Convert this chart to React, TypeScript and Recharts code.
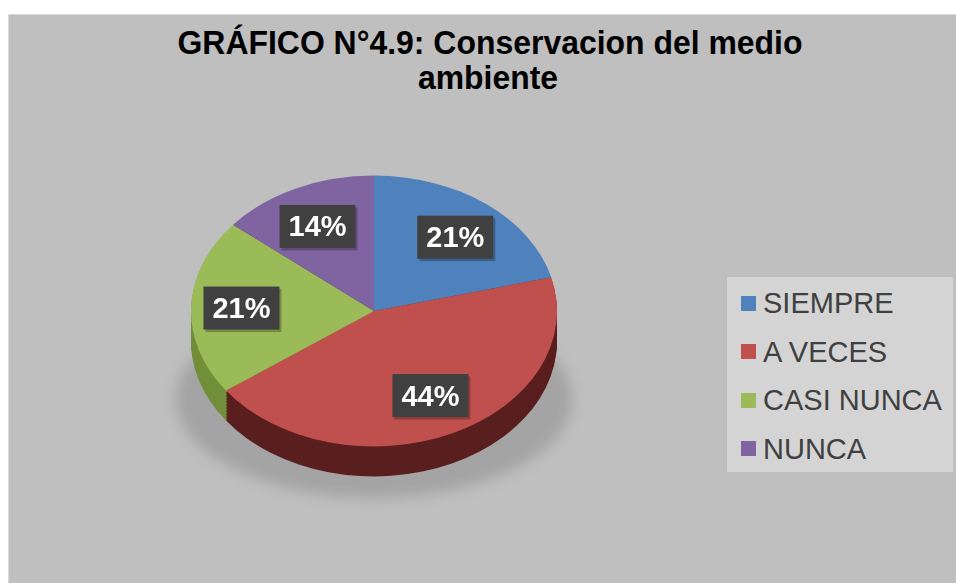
import { PieChart, Pie, Cell } from 'recharts';

const categories = ['SIEMPRE', 'A VECES', 'CASI NUNCA', 'NUNCA'];
const percents = [21, 44, 21, 14];
const topColors = ['#4f81bd', '#c0504d', '#9bbb59', '#8064a2'];
const sideColors = ['#2c4a6e', '#5a1f1f', '#728f3a', '#4a3a60'];

const data = categories.map((name, i) => ({ name, value: percents[i] }));

const K = 0.74; // vertical squash for the tilted look
const CX = 374;
const CY = 311 / K;
const R = 183;
const DEPTH = 30 / K;
const layers = Array.from({ length: 21 }, (_, i) => DEPTH - i * (DEPTH / 20)).filter(d => d > 0);

const RADIAN = Math.PI / 180;

function PctLabel(props: any) {
  const { cx, cy, midAngle, outerRadius, value } = props;
  const r = outerRadius * 0.69;
  // nudge toward the front, the way the perspective pulls lower labels out
  const x = cx + r * Math.cos(-midAngle * RADIAN) * 1.05;
  const y = cy + r * Math.sin(-midAngle * RADIAN);
  return (
    <g transform={`translate(${x},${y}) scale(1,${1 / K})`}>
      <rect x={-36} y={-19} width={76} height={43} fill="rgba(0,0,0,0.25)" />
      <rect x={-38} y={-21.5} width={76} height={43} fill="#404040" />
      <text
        x={0}
        y={10}
        textAnchor="middle"
        fill="#ffffff"
        fontFamily="Liberation Sans, Arial, sans-serif"
        fontWeight="bold"
        fontSize={29}
      >
        {`${value}%`}
      </text>
    </g>
  );
}

export default function App() {
  return (
    <div style={{ position: 'absolute', left: 0, top: 0, width: 956, height: 583, background: '#ffffff', overflow: 'hidden' }}>
      <div style={{ position: 'absolute', left: 8, top: 14, width: 948, height: 569, background: '#bfbfbf', borderLeft: '1px solid #d9d9d9', borderTop: '1px solid #d9d9d9' }} />

      <svg width={956} height={110} style={{ position: 'absolute', left: 0, top: 0 }}>
        <text x={490} y={54} textAnchor="middle" fontFamily="Liberation Sans, Arial, sans-serif" fontWeight="bold" fontSize={33} fill="#000" textLength={625} lengthAdjust="spacingAndGlyphs">
          GRÁFICO N°4.9: Conservacion del medio
        </text>
        <text x={488} y={89} textAnchor="middle" fontFamily="Liberation Sans, Arial, sans-serif" fontWeight="bold" fontSize={33} fill="#000" textLength={140} lengthAdjust="spacingAndGlyphs">
          ambiente
        </text>
      </svg>

      <div style={{ position: 'absolute', left: 176, top: 300, width: 396, height: 198, borderRadius: '50%', background: 'rgba(0,0,0,0.14)', filter: 'blur(7px)' }} />

      <div style={{ position: 'absolute', left: 0, top: 0, width: 956, height: 583 / K, transform: `scaleY(${K})`, transformOrigin: '0 0' }}>
        <PieChart width={956} height={583 / K} margin={{ top: 0, right: 0, bottom: 0, left: 0 }}>
          {layers.map(d => (
            <Pie
              key={`side-${d}`}
              data={data}
              dataKey="value"
              nameKey="name"
              cx={CX}
              cy={CY + d}
              outerRadius={R}
              startAngle={90}
              endAngle={-270}
              stroke="none"
              isAnimationActive={false}
            >
              {data.map((_, i) => (
                <Cell key={i} fill={sideColors[i]} />
              ))}
            </Pie>
          ))}
          <Pie
            data={data}
            dataKey="value"
            nameKey="name"
            cx={CX}
            cy={CY}
            outerRadius={R}
            startAngle={90}
            endAngle={-270}
            stroke="none"
            label={PctLabel}
            labelLine={false}
            isAnimationActive={false}
          >
            {data.map((_, i) => (
              <Cell key={i} fill={topColors[i]} />
            ))}
          </Pie>
        </PieChart>
      </div>

      <div style={{ position: 'absolute', left: 727, top: 277, width: 226, height: 195, background: '#d4d4d4' }}>
        {categories.map((c, i) => (
          <div key={c} style={{ position: 'absolute', left: 14, top: 11 + i * 48.5, height: 30, display: 'flex', alignItems: 'center' }}>
            <div style={{ width: 15, height: 15, background: topColors[i], marginRight: 7 }} />
            <span style={{ fontFamily: 'Liberation Sans, Arial, sans-serif', fontSize: 29, color: '#404040', lineHeight: '30px', whiteSpace: 'nowrap' }}>{c}</span>
          </div>
        ))}
      </div>
    </div>
  );
}
